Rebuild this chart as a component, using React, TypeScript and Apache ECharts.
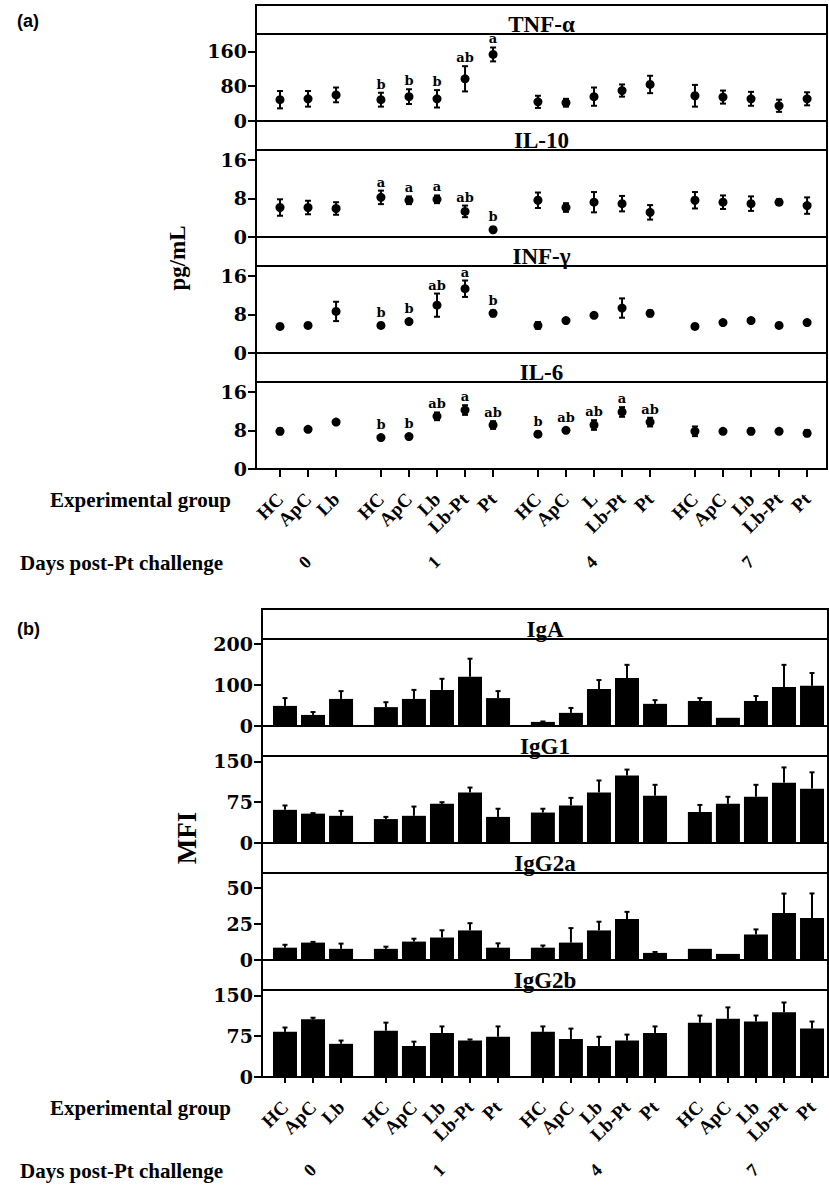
import React, { useEffect, useRef } from 'react';
import * as echarts from 'echarts';

// ---------- data ----------
const DAYS = ['0', '1', '4', '7'];
const GROUPS_A = [
  ['HC', 'ApC', 'Lb'],
  ['HC', 'ApC', 'Lb', 'Lb-Pt', 'Pt'],
  ['HC', 'ApC', 'L', 'Lb-Pt', 'Pt'],
  ['HC', 'ApC', 'Lb', 'Lb-Pt', 'Pt'],
];
const GROUPS_B = [
  ['HC', 'ApC', 'Lb'],
  ['HC', 'ApC', 'Lb', 'Lb-Pt', 'Pt'],
  ['HC', 'ApC', 'Lb', 'Lb-Pt', 'Pt'],
  ['HC', 'ApC', 'Lb', 'Lb-Pt', 'Pt'],
];
const GROUP_GAP = 0.6;

// Panel (a) cytokines (pg/mL), mean and SE
const TNF_MEAN = [49, 51, 60, 49, 56, 51, 97, 153, 44, 42, 56, 70, 84, 58, 55, 51, 35, 51];
const TNF_ERR = [20, 18, 17, 16, 17, 20, 29, 16, 14, 9, 21, 14, 20, 25, 15, 16, 14, 15];
const TNF_LETTERS = ['', '', '', 'b', 'b', 'b', 'ab', 'a', '', '', '', '', '', '', '', '', '', ''];
const TNF_TICKS = [0, 80, 160];
const TNF_MAX = 200;

const IL10_MEAN = [6.1, 6.1, 5.9, 8.2, 7.6, 7.8, 5.3, 1.5, 7.6, 6.1, 7.2, 6.9, 5.1, 7.6, 7.2, 6.9, 7.2, 6.5];
const IL10_ERR = [1.7, 1.4, 1.3, 1.4, 0.8, 0.8, 1.2, 0, 1.6, 0.9, 2.1, 1.6, 1.5, 1.7, 1.4, 1.5, 0.6, 1.7];
const IL10_LETTERS = ['', '', '', 'a', 'a', 'a', 'ab', 'b', '', '', '', '', '', '', '', '', '', ''];

const INFG_MEAN = [5.5, 5.7, 8.6, 5.7, 6.5, 9.9, 13.3, 8.2, 5.7, 6.7, 7.8, 9.3, 8.2, 5.5, 6.3, 6.7, 5.7, 6.3];
const INFG_ERR = [0, 0, 2, 0, 0, 2.4, 1.7, 0.6, 0.7, 0.4, 0, 2, 0.6, 0, 0, 0, 0, 0];
const INFG_LETTERS = ['', '', '', 'b', 'b', 'ab', 'a', 'b', '', '', '', '', '', '', '', '', '', ''];

const IL6_MEAN = [7.8, 8.2, 9.7, 6.5, 6.7, 10.9, 12.2, 9.1, 7.2, 8.0, 9.1, 11.8, 9.7, 7.8, 7.8, 7.8, 7.8, 7.4];
const IL6_ERR = [0.6, 0, 0, 0, 0, 0.8, 1, 0.8, 0.5, 0.3, 1, 1, 0.9, 1, 0, 0.6, 0, 0.6];
const IL6_LETTERS = ['', '', '', 'b', 'b', 'ab', 'a', 'ab', 'b', 'ab', 'ab', 'a', 'ab', '', '', '', '', ''];

const SMALL_TICKS = [0, 8, 16];
const SMALL_MAX = 18;

// Panel (b) antibodies (MFI), mean and SE
const IGA_MEAN = [49, 27, 66, 46, 66, 88, 120, 68, 10, 32, 90, 117, 54, 61, 20, 61, 95, 98];
const IGA_ERR = [19, 7, 19, 12, 22, 27, 44, 17, 1, 12, 22, 32, 9, 7, 0, 12, 54, 31];
const IGA_TICKS = [0, 100, 200];
const IGA_MAX = 212;

const IGG1_MEAN = [61, 54, 50, 44, 50, 72, 93, 48, 56, 69, 93, 124, 87, 57, 72, 85, 111, 100];
const IGG1_ERR = [8, 1, 9, 4, 17, 3, 9, 15, 7, 14, 22, 11, 20, 13, 13, 22, 28, 30];
const IGG1_TICKS = [0, 75, 150];
const IGG1_MAX = 160;

const IGG2A_MEAN = [8.5, 12, 7.7, 7.7, 12.7, 15.5, 20.4, 8.5, 8.5, 12, 20.4, 28.2, 4.9, 7.7, 4.2, 17.6, 32.4, 28.9];
const IGG2A_ERR = [2, 0.5, 3.6, 1.5, 2, 5, 5, 3, 1.5, 10, 6, 5, 0.6, 0, 0, 3.5, 13.4, 17];
const IGG2A_TICKS = [0, 25, 50];
const IGG2A_MAX = 60;

const IGG2B_MEAN = [83, 106, 61, 85, 57, 81, 67, 74, 83, 70, 57, 67, 81, 100, 107, 102, 119, 89];
const IGG2B_ERR = [8, 3, 6, 15, 8, 12, 2, 19, 10, 19, 17, 11, 12, 13, 21, 11, 18, 13];
const IGG2B_TICKS = [0, 75, 150];
const IGG2B_MAX = 160;

// ---------- helpers ----------
const SERIF = '"Liberation Serif", "Times New Roman", serif';
const NUMF = '"DejaVu Serif", serif';
const SANS = '"Liberation Sans", Arial, sans-serif';

function positions(groups: string[][]) {
  const xs: number[] = [];
  let p = 0;
  groups.forEach((g) => {
    g.forEach(() => {
      xs.push(p);
      p += 1;
    });
    p += GROUP_GAP;
  });
  return xs;
}
function centers(groups: string[][], xs: number[]) {
  const out: number[] = [];
  let k = 0;
  groups.forEach((g) => {
    const first = xs[k];
    const last = xs[k + g.length - 1];
    out.push((first + last) / 2);
    k += g.length;
  });
  return out;
}
function nearest(arr: number[], v: number) {
  let bi = 0;
  let bd = Infinity;
  arr.forEach((a, i) => {
    const d = Math.abs(a - v);
    if (d < bd) {
      bd = d;
      bi = i;
    }
  });
  return bi;
}

type Sub = {
  title: string;
  mean: number[];
  err: number[];
  letters?: string[];
  max: number;
  ticks: number[];
};

const SUBS_A: Sub[] = [
  { title: 'TNF-α', mean: TNF_MEAN, err: TNF_ERR, letters: TNF_LETTERS, max: TNF_MAX, ticks: TNF_TICKS },
  { title: 'IL-10', mean: IL10_MEAN, err: IL10_ERR, letters: IL10_LETTERS, max: SMALL_MAX, ticks: SMALL_TICKS },
  { title: 'INF-γ', mean: INFG_MEAN, err: INFG_ERR, letters: INFG_LETTERS, max: SMALL_MAX, ticks: SMALL_TICKS },
  { title: 'IL-6', mean: IL6_MEAN, err: IL6_ERR, letters: IL6_LETTERS, max: SMALL_MAX, ticks: SMALL_TICKS },
];
const SUBS_B: Sub[] = [
  { title: 'IgA', mean: IGA_MEAN, err: IGA_ERR, max: IGA_MAX, ticks: IGA_TICKS },
  { title: 'IgG1', mean: IGG1_MEAN, err: IGG1_ERR, max: IGG1_MAX, ticks: IGG1_TICKS },
  { title: 'IgG2a', mean: IGG2A_MEAN, err: IGG2A_ERR, max: IGG2A_MAX, ticks: IGG2A_TICKS },
  { title: 'IgG2b', mean: IGG2B_MEAN, err: IGG2B_ERR, max: IGG2B_MAX, ticks: IGG2B_TICKS },
];

type Panel = {
  subs: Sub[];
  groups: string[][];
  left: number;
  width: number;
  tops: number[];
  h: number;
  boxTop: number;
  xMin: number;
  xMax: number;
  kind: 'point' | 'bar';
  tag: string;
  tagY: number;
  yName: string;
  yNameX: number;
  yNameY: number;
  yNameSize: number;
};

const PANELS: Panel[] = [
  {
    subs: SUBS_A, groups: GROUPS_A, left: 256, width: 571, tops: [34, 150, 266, 382], h: 87, boxTop: 5,
    xMin: -0.856, xMax: 19.51, kind: 'point', tag: '(a)', tagY: 21,
    yName: 'pg/mL', yNameX: 177, yNameY: 258, yNameSize: 23,
  },
  {
    subs: SUBS_B, groups: GROUPS_B, left: 262, width: 566, tops: [639, 756, 873, 990], h: 87, boxTop: 609,
    xMin: -0.82, xMax: 19.37, kind: 'bar', tag: '(b)', tagY: 629,
    yName: 'MFI', yNameX: 187, yNameY: 838, yNameSize: 27,
  },
];

function buildOption() {
  const grid: any[] = [];
  const xAxis: any[] = [];
  const yAxis: any[] = [];
  const series: any[] = [];
  const graphic: any[] = [];
  const dayAxes: any[] = [];

  PANELS.forEach((P, pi) => {
    const xs = positions(P.groups);
    const labels = P.groups.flat();
    const cs = centers(P.groups, xs);
    const bottomY = P.tops[3] + P.h;

    graphic.push({
      type: 'rect',
      shape: { x: P.left, y: P.boxTop, width: P.width, height: bottomY - P.boxTop },
      style: { fill: 'none', stroke: '#000', lineWidth: 2 },
      z: 10,
    });
    graphic.push({
      type: 'text', x: 17, y: P.tagY,
      style: { text: P.tag, font: `bold 18px ${SANS}`, fill: '#000', textAlign: 'left', textVerticalAlign: 'middle', align: 'left', verticalAlign: 'middle' },
    });
    graphic.push({
      type: 'text', x: P.yNameX, y: P.yNameY, rotation: Math.PI / 2,
      style: { text: P.yName, font: `bold ${P.yNameSize}px ${SERIF}`, fill: '#000', textAlign: 'center', textVerticalAlign: 'middle', align: 'center', verticalAlign: 'middle' },
    });
    graphic.push({
      type: 'text', x: 231, y: bottomY + 31,
      style: { text: 'Experimental group', font: `bold 21px ${SERIF}`, fill: '#000', textAlign: 'right', textVerticalAlign: 'middle', align: 'right', verticalAlign: 'middle' },
    });
    graphic.push({
      type: 'text', x: 223, y: bottomY + 94,
      style: { text: 'Days post-Pt challenge', font: `bold 21px ${SERIF}`, fill: '#000', textAlign: 'right', textVerticalAlign: 'middle', align: 'right', verticalAlign: 'middle' },
    });

    P.subs.forEach((S, i) => {
      const g = pi * 4 + i;
      const isBottom = i === 3;
      grid.push({
        left: P.left, top: P.tops[i], width: P.width, height: P.h,
        show: true, borderColor: '#000', borderWidth: 2, backgroundColor: 'transparent',
        containLabel: false,
      });
      graphic.push({
        type: 'text', x: P.left + P.width / 2, y: P.tops[i] - 10,
        style: { text: S.title, font: `bold 23px ${SERIF}`, fill: '#000', textAlign: 'center', textVerticalAlign: 'middle', align: 'center', verticalAlign: 'middle' },
        z: 5,
      });
      xAxis.push({
        type: 'value', gridIndex: g, min: P.xMin, max: P.xMax,
        axisLine: { show: isBottom, onZero: false, lineStyle: { color: '#000', width: 2 } },
        axisTick: { show: isBottom, customValues: xs, length: pi === 0 ? 8 : 6, lineStyle: { color: '#000', width: 2 } },
        axisLabel: {
          show: isBottom, customValues: xs, rotate: 45, margin: 27,
          formatter: (v: number) => labels[nearest(xs, v)],
          fontFamily: SERIF, fontWeight: 'bold', fontSize: 19, color: '#000',
        },
        splitLine: { show: false },
      });
      yAxis.push({
        type: 'value', gridIndex: g, min: 0, max: S.max,
        axisLine: { show: true, onZero: false, lineStyle: { color: '#000', width: 2 } },
        axisTick: { show: true, customValues: S.ticks, length: 8, lineStyle: { color: '#000', width: 2 } },
        axisLabel: { customValues: S.ticks, margin: 9, fontFamily: NUMF, fontWeight: 'bold', fontSize: 19, color: '#000' },
        splitLine: { show: false },
      });
      if (isBottom) {
        dayAxes.push({
          type: 'value', gridIndex: g, position: 'bottom', offset: 80, min: P.xMin, max: P.xMax,
          axisLine: { show: false, onZero: false }, axisTick: { show: false }, splitLine: { show: false },
          axisLabel: {
            customValues: cs, rotate: 45, margin: 10,
            formatter: (v: number) => DAYS[nearest(cs, v)],
            fontFamily: SERIF, fontWeight: 'bold', fontSize: 18, color: '#000',
          },
        });
      }

      const pts = xs.map((x, k) => [x, S.mean[k], S.err[k]]);
      if (P.kind === 'point') {
        series.push({
          type: 'scatter', xAxisIndex: g, yAxisIndex: g, symbol: 'circle', symbolSize: 9,
          itemStyle: { color: '#000', opacity: 1 }, data: pts.map((p) => [p[0], p[1]]), z: 3,
        });
      } else {
        series.push({
          type: 'bar', xAxisIndex: g, yAxisIndex: g, barWidth: 24,
          itemStyle: { color: '#000' }, data: pts.map((p) => [p[0], p[1]]), z: 2,
        });
      }
      const both = P.kind === 'point';
      const letters = S.letters;
      series.push({
        type: 'custom', xAxisIndex: g, yAxisIndex: g, z: 4,
        data: pts,
        renderItem: (params: any, api: any) => {
          const x = api.value(0);
          const m = api.value(1);
          const e = api.value(2);
          const c = api.coord([x, m]);
          const t = api.coord([x, m + e]);
          const b = api.coord([x, both ? m - e : m]);
          const cw = both ? 3 : 2.5;
          const children: any[] = [];
          const ls = { stroke: '#000', lineWidth: 2 };
          if (e > 0) {
            children.push({ type: 'line', shape: { x1: t[0], y1: t[1], x2: b[0], y2: b[1] }, style: ls });
            children.push({ type: 'line', shape: { x1: t[0] - cw, y1: t[1], x2: t[0] + cw, y2: t[1] }, style: ls });
            if (both) children.push({ type: 'line', shape: { x1: b[0] - cw, y1: b[1], x2: b[0] + cw, y2: b[1] }, style: ls });
          }
          const L = letters ? letters[params.dataIndex] : '';
          if (L) {
            const topY = Math.min(t[1], c[1] - 4.5) - 2;
            children.push({
              type: 'text', x: c[0], y: topY,
              style: { text: L, font: `bold 13px ${NUMF}`, fill: '#000', textAlign: 'center', textVerticalAlign: 'bottom', align: 'center', verticalAlign: 'bottom' },
            });
          }
          return { type: 'group', children };
        },
      });
    });
  });

  return {
    animation: false,
    backgroundColor: '#fff',
    grid,
    xAxis: [...xAxis, ...dayAxes],
    yAxis,
    series,
    graphic,
  };
}

export default function App() {
  const ref = useRef<HTMLDivElement>(null);
  useEffect(() => {
    const chart = echarts.init(ref.current!, null, { renderer: 'svg' });
    chart.setOption(buildOption() as any);
    return () => chart.dispose();
  }, []);
  return (
    <div
      ref={ref}
      style={{ position: 'absolute', left: 0, top: 0, width: 829, height: 1186, background: '#fff' }}
    />
  );
}
